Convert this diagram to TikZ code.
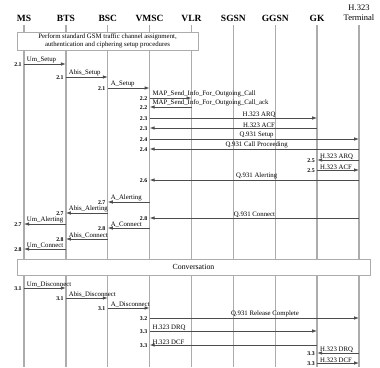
\documentclass[tikz,border=0pt]{standalone}
\usepackage{fontspec}
\setmainfont{Liberation Serif}
\usetikzlibrary{arrows.meta,positioning}

\begin{document}
\begin{tikzpicture}
        [x=1pt, y=-1pt,
         entity/.style={font=\fontsize{9.5}{10}\selectfont\bfseries, inner sep=0pt},
         life/.style={draw=gray!65, line width=1.3pt},
         msg/.style={draw=black!70, line width=0.8pt, -{Latex[length=5pt,width=3.6pt]}},
         lbl/.style={font=\fontsize{6.8}{7}\selectfont, inner sep=0.3pt, anchor=south west, xshift=2.3pt},
         mid/.style={lbl, anchor=south, xshift=0pt},
         num/.style={font=\fontsize{5.8}{6}\selectfont\bfseries, inner sep=0.2pt, anchor=east, xshift=-1.8pt, yshift=-0.2pt},
         phase/.style={draw=gray!65, line width=0.8pt, fill=white, align=center, inner sep=1pt}]

        \useasboundingbox (0,0) rectangle (380,367);

        % entities
        \node [entity] (ms)   at (24,18)    {MS};
        \node [entity] (bts)  at (65.9,18)  {BTS};
        \node [entity] (bsc)  at (107.75,18) {BSC};
        \node [entity] (vmsc) at (149.6,18) {VMSC};
        \node [entity] (vlr)  at (191.5,18) {VLR};
        \node [entity] (sgsn) at (233.4,18) {SGSN};
        \node [entity] (ggsn) at (275.25,18) {GGSN};
        \node [entity] (gk)   at (317.1,18) {GK};
        \node [entity, font=\fontsize{8.5}{10}\selectfont, align=center] (term) at (359,13) {H.323\\Terminal};

        \foreach \e in {ms,bts,bsc,vmsc,vlr,sgsn,ggsn,gk,term}
          \draw [life] (\e |- 0,25) -- (\e |- 0,367);

        % phases
        \node [phase, minimum width=181pt, minimum height=18pt, font=\fontsize{6.8}{7.6}\selectfont] (gsm) at (107.5,41)
              {Perform standard GSM traffic channel assignment,\\authentication and ciphering setup procedures};
        \node [phase, minimum width=353pt, minimum height=16pt, font=\fontsize{7.8}{8}\selectfont] (conv) at (193.5,267) {Conversation};

        % call setup
        \draw [msg] (ms |- 0,64)   -- (bts |- 0,64)  node [lbl, at start] {Um\_Setup}   node [num, at start] {2.1};
        \draw [msg] (bts |- 0,77)  -- (bsc |- 0,77)  node [lbl, at start] {Abis\_Setup} node [num, at start] {2.1};
        \draw [msg] (bsc |- 0,88)  -- (vmsc |- 0,88) node [lbl, at start] {A\_Setup}    node [num, at start] {2.1};
        \draw [msg] (vmsc |- 0,98) -- (vlr |- 0,98)  node [lbl, at start] {MAP\_Send\_Info\_For\_Outgoing\_Call} node [num, at start] {2.2};
        \draw [msg] (vlr |- 0,107) -- (vmsc |- 0,107) node [lbl, at end] {MAP\_Send\_Info\_For\_Outgoing\_Call\_ack} node [num, at end] {2.2};
        \draw [msg] (vmsc |- 0,118) -- (gk |- 0,118) node [mid, pos=.64] {H.323 ARQ} node [num, at start] {2.3};
        \draw [msg] (gk |- 0,128) -- (vmsc |- 0,128) node [mid, pos=.36] {H.323 ACF} node [num, at end] {2.3};
        \draw [msg] (vmsc |- 0,139) -- (term |- 0,139) node [mid, midway] {Q.931 Setup} node [num, at start] {2.4};
        \draw [msg] (term |- 0,149) -- (vmsc |- 0,149) node [mid, midway] {Q.931 Call Proceeding} node [num, at end] {2.4};
        \draw [msg] (term |- 0,160) -- (gk |- 0,160) node [lbl, at end] {H.323 ARQ} node [num, at end] {2.5};
        \draw [msg] (gk |- 0,170) -- (term |- 0,170) node [lbl, at start] {H.323 ACF} node [num, at start] {2.5};
        \draw [msg] (term |- 0,180) -- (vmsc |- 0,180) node [mid, midway] {Q.931 Alerting} node [num, at end] {2.6};

        % alerting and connect
        \draw [msg] (vmsc |- 0,202) -- (bsc |- 0,202) node [lbl, at end] {A\_Alerting}    node [num, at end] {2.7};
        \draw [msg] (bsc |- 0,213)  -- (bts |- 0,213) node [lbl, at end] {Abis\_Alerting} node [num, at end] {2.7};
        \draw [msg] (bts |- 0,224)  -- (ms |- 0,224)  node [lbl, at end] {Um\_Alerting}   node [num, at end] {2.7};
        \draw [msg] (term |- 0,218) -- (vmsc |- 0,218) node [mid, pos=.51] {Q.931 Connect} node [num, at end] {2.8};
        \draw [msg] (vmsc |- 0,228) -- (bsc |- 0,228) node [lbl, at end] {A\_Connect}     node [num, at end] {2.8};
        \draw [msg] (bsc |- 0,239)  -- (bts |- 0,239) node [lbl, at end] {Abis\_Connect}  node [num, at end] {2.8};
        \draw [msg] (bts |- 0,249)  -- (ms |- 0,249)  node [lbl, at end] {Um\_Connect}    node [num, at end] {2.8};

        % release
        \draw [msg] (ms |- 0,288)  -- (bts |- 0,288)  node [lbl, at start] {Um\_Disconnect}   node [num, at start] {3.1};
        \draw [msg] (bts |- 0,298) -- (bsc |- 0,298)  node [lbl, at start] {Abis\_Disconnect} node [num, at start] {3.1};
        \draw [msg] (bsc |- 0,308) -- (vmsc |- 0,308) node [lbl, at start] {A\_Disconnect}    node [num, at start] {3.1};
        \draw [msg] (vmsc |- 0,318) -- (term |- 0,318) node [mid, pos=.54] {Q.931 Release Complete} node [num, at start] {3.2};
        \draw [msg] (vmsc |- 0,331) -- (gk |- 0,331)  node [lbl, at start] {H.323 DRQ} node [num, at start] {3.3};
        \draw [msg] (gk |- 0,345)   -- (vmsc |- 0,345) node [lbl, at end] {H.323 DCF} node [num, at end] {3.3};
        \draw [msg] (term |- 0,353) -- (gk |- 0,353)  node [lbl, at end] {H.323 DRQ} node [num, at end] {3.3};
        \draw [msg] (gk |- 0,363)   -- (term |- 0,363) node [lbl, at start] {H.323 DCF} node [num, at start] {3.3};
\end{tikzpicture}
\end{document}
